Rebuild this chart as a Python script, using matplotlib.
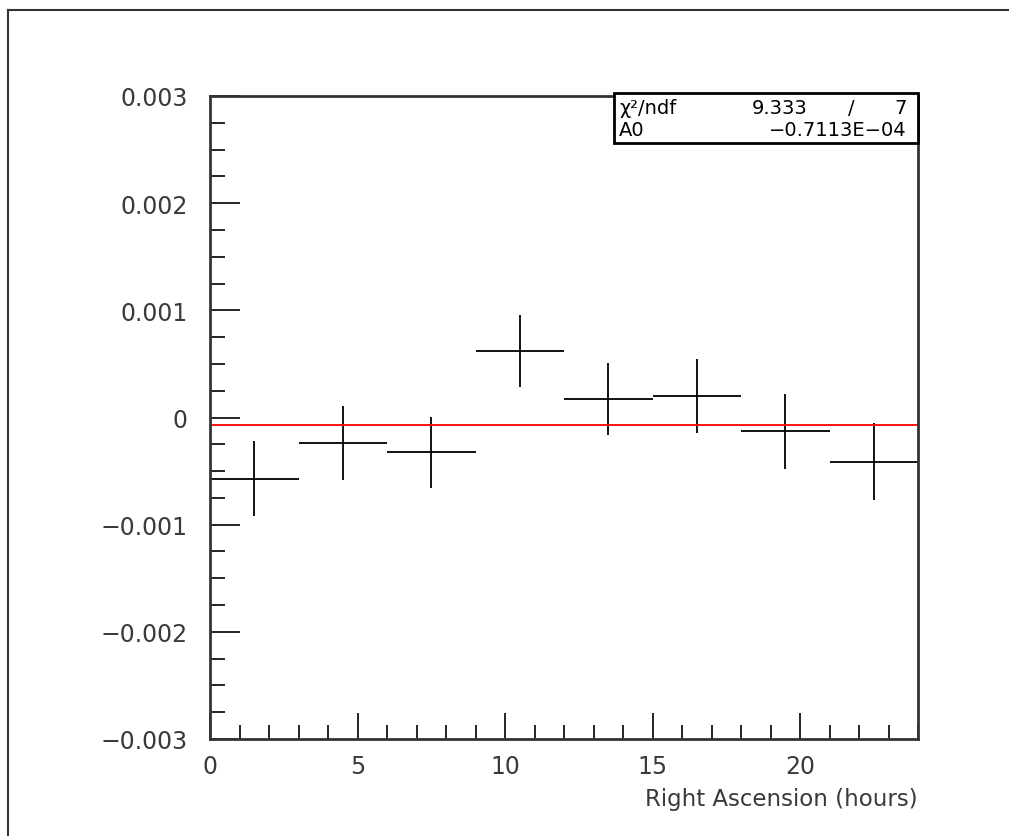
import numpy as np
import matplotlib.pyplot as plt
from matplotlib.patches import Rectangle
from matplotlib.lines import Line2D
from matplotlib.ticker import MultipleLocator, FixedLocator, FixedFormatter

# asymmetry per 3-hour RA bin
ra_center = [1.5, 4.5, 7.5, 10.5, 13.5, 16.5, 19.5, 22.5]
ra_halfwidth = 1.5
asym = [-0.000572, -0.000236, -0.000324, 0.000625, 0.000177, 0.000205, -0.000128, -0.000414]
asym_err = [0.000350, 0.000345, 0.000333, 0.000336, 0.000336, 0.000345, 0.000350, 0.000360]

# constant fit result
fit_a0 = -0.7113e-04
chi2_text = "9.333"
ndf_text = "7"
a0_text = "\u22120.7113E\u221204"

ytick_vals = [0.003, 0.002, 0.001, 0.0, -0.001, -0.002, -0.003]
ytick_labels = ["0.003", "0.002", "0.001", "0", "\u22120.001", "\u22120.002", "\u22120.003"]
xtick_vals = [0, 5, 10, 15, 20]
xtick_labels = ["0", "5", "10", "15", "20"]

W, H = 1009, 837
fig = plt.figure(figsize=(W / 100, H / 100), dpi=100)

def fx(x):
    return x / W

def fy(y):
    return 1 - y / H

ax = fig.add_axes([fx(210), fy(740), fx(918) - fx(210), fy(97) - fy(740)])

ax.errorbar(ra_center, asym, xerr=ra_halfwidth, yerr=asym_err, fmt='none',
            ecolor='black', elinewidth=1.3, capsize=0)
ax.axhline(fit_a0, color='red', lw=1.3)

ax.set_xlim(0, 24)
ax.set_ylim(-0.003, 0.003)

ax.xaxis.set_major_locator(FixedLocator(xtick_vals))
ax.xaxis.set_major_formatter(FixedFormatter(xtick_labels))
ax.xaxis.set_minor_locator(MultipleLocator(1))
ax.yaxis.set_major_locator(FixedLocator(ytick_vals))
ax.yaxis.set_major_formatter(FixedFormatter(ytick_labels))
ax.yaxis.set_minor_locator(MultipleLocator(0.00025))

ax.tick_params(which='both', direction='in', top=False, right=False, colors='black')
ax.tick_params(axis='y', which='major', length=21.6, width=1.2, pad=16, labelsize=17, labelcolor='#3a3a3a')
ax.tick_params(axis='y', which='minor', length=10.8, width=1.2)
ax.tick_params(axis='x', which='major', length=19, width=1.2, pad=11, labelsize=17, labelcolor='#3a3a3a')
ax.tick_params(axis='x', which='minor', length=10, width=1.2)

for s in ax.spines.values():
    s.set_linewidth(2)
    s.set_color('#333333')

ax.set_xlabel("Right Ascension (hours)", fontsize=16.5, color='#3a3a3a')
ax.xaxis.set_label_coords(1.0, (740 - 800) / 643)
ax.xaxis.label.set_ha('right')
ax.xaxis.label.set_va('center')

# stats box
fig.patches.append(Rectangle((fx(614), fy(144)), fx(918) - fx(614), fy(94) - fy(144),
                             transform=fig.transFigure, facecolor='white',
                             edgecolor='black', lw=2, zorder=5))
box_fs = 14
fig.text(fx(619), fy(108), "\u03c7\u00b2/ndf", fontsize=box_fs, va='center', ha='left', zorder=6)
fig.text(fx(780), fy(108), chi2_text, fontsize=box_fs, va='center', ha='center', zorder=6)
fig.text(fx(851), fy(108), "/", fontsize=box_fs, va='center', ha='center', zorder=6)
fig.text(fx(907), fy(108), ndf_text, fontsize=box_fs, va='center', ha='right', zorder=6)
fig.text(fx(619), fy(131), "A0", fontsize=box_fs, va='center', ha='left', zorder=6)
fig.text(fx(907), fy(131), a0_text, fontsize=box_fs, va='center', ha='right', zorder=6)

# page frame (top and left edges)
fig.add_artist(Line2D([fx(7.5), fx(7.5)], [0, fy(11)], transform=fig.transFigure, color='#333333', lw=1.5))
fig.add_artist(Line2D([fx(7.5), 1], [fy(11), fy(11)], transform=fig.transFigure, color='#333333', lw=1.5))

fig.savefig("out.png", dpi=100)
